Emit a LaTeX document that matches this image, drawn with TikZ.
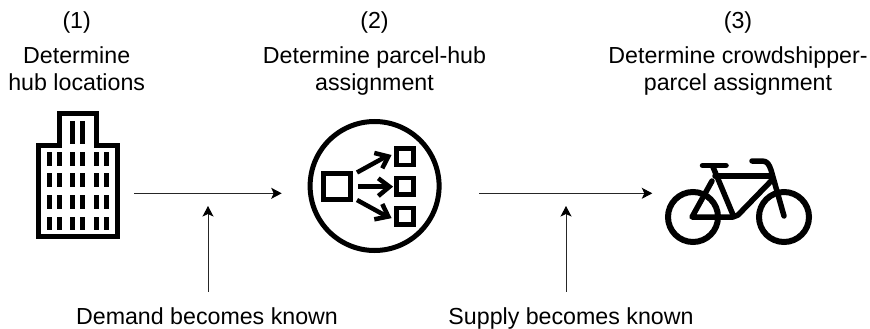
\documentclass[tikz,border=0pt]{standalone}
\usepackage{fontspec}
\setmainfont{Liberation Sans}
\usetikzlibrary{arrows.meta}
\tikzset{
 lab/.style={align=center,font=\fontsize{23.2}{27}\selectfont,inner sep=0pt,text=black},
 one/.style={lab,anchor=base},
 conn/.style={line width=1pt,draw=black!85,-{Stealth[length=10.5pt,width=11pt,inset=2.5pt,black]}},
 ico/.style={line width=5pt,black,line join=miter},
 wheel/.style={line width=6pt,black},
 icr/.style={line width=5.5pt,black,line cap=round,line join=round},
 win/.style={fill=black,draw=none},
 hubline/.style={line width=4.5pt,black},
}
\begin{document}
\begin{tikzpicture}[x=1pt,y=-1pt]
\useasboundingbox (0,0) rectangle (870,329);
% labels
\node[one] (n1) at (76.7,28.3) {(1)};
\node[lab] (t1) at (76.7,68.6) {Determine\\hub locations};
\node[one] (n2) at (374.5,28.3) {(2)};
\node[lab] (t2) at (374.5,70.8) {Determine parcel-hub\\assignment};
\node[one] (n3) at (738,28.3) {(3)};
\node[lab] (t3) at (738,70.8) {Determine crowdshipper-\\parcel assignment};
\node[one] (d) at (207,324.3) {Demand becomes known};
\node[one] (s) at (571,324.3) {Supply becomes known};
% building
\draw[ico] (38,236) -- (38,145) -- (59,145) -- (59,113) -- (96.5,113) -- (96.5,145) -- (117.5,145) -- (117.5,236) -- cycle;
\foreach \xa in {46.7,56.7,70,80.3,93.7,104.3}
  \foreach \ya in {152.3,173.3,195,216.5}
    \fill[win] (\xa,\ya) rectangle ++(5,13.5);
\foreach \xa in {70,80.3}
  \fill[win] (\xa,120.7) rectangle ++(5,23.6);
% hub icon
\draw[ico] (374.6,186) circle[radius=64.5];
\draw[ico] (323.5,173) rectangle (350,199.5);
\draw[hubline] (396.5,148.5) rectangle (413.5,165);
\draw[hubline] (396.5,178) rectangle (413.5,194.5);
\draw[hubline] (396.5,208) rectangle (413.5,224.5);
\draw[hubline] (357,172.5) -- (387,156);
\draw[hubline] (374.3,153) -- (388.3,156.5) -- (382.3,168.3);
\draw[hubline] (358.3,186.7) -- (389,186.7);
\draw[hubline] (378.3,178.3) -- (389.5,186.7) -- (378.3,196);
\draw[hubline] (357,200) -- (387,216.5);
\draw[hubline] (382.3,204) -- (388.3,216.5) -- (374.3,219.3);
% bicycle
\draw[wheel] (693,217) circle[radius=25];
\draw[wheel] (784,217) circle[radius=25];
\draw[icr] (702.5,165.5) -- (726,165.5);
\draw[icr] (713,167) -- (733.5,216);
\draw[icr] (715,176) -- (770,176);
\draw[icr] (712,181) -- (692,217) -- (733,217) -- (738,215) -- (773,179);
\draw[icr] (752,161) -- (762,161) .. controls (767,161) and (769,164) .. (771,170) -- (784,216);
% connectors
\coordinate (a1) at (134,193.3);
\coordinate (a2) at (281.7,193.3);
\coordinate (b1) at (479.3,193.3);
\coordinate (b2) at (652.3,193.3);
\coordinate (c) at (208,206);
\coordinate (e) at (566,206);
\coordinate (c0) at (208,291.7);
\coordinate (e0) at (566,291.7);
\draw[conn] (a1) -- (a2);
\draw[conn] (b1) -- (b2);
\draw[conn] (c0) -- (c);
\draw[conn] (e0) -- (e);
\end{tikzpicture}
\end{document}
